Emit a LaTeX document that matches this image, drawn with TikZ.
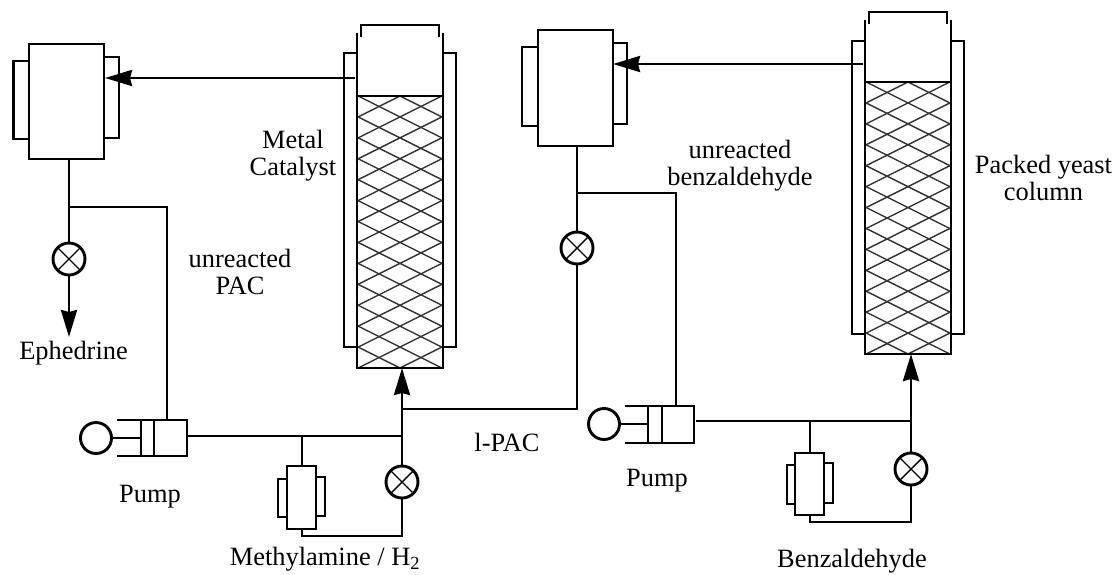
\documentclass[tikz,border=0pt]{standalone}
\usepackage{fontspec}
\setmainfont{Liberation Serif}
\usetikzlibrary{arrows.meta}
\tikzset{
  pipe/.style={line width=2.8pt,line cap=butt,line join=miter},
  flow/.style={pipe,-{Stealth[length=27pt,width=16pt,inset=2pt]}},
  wall/.style={line width=2.9pt,line join=miter,line cap=butt},
  mesh/.style={line width=1.4pt,black!80},
  vessel/.style={draw,line width=2.9pt,inner sep=0pt,outer sep=0pt,fill=white},
  packing/.style={draw,line width=2.9pt,inner sep=0pt,outer sep=0pt},
  valve/.style={circle,draw,line width=2.9pt,inner sep=0pt,outer sep=0pt,minimum size=32pt,fill=white,
    path picture={\draw[line width=1.4pt] (path picture bounding box.north west)--(path picture bounding box.south east)
      (path picture bounding box.north east)--(path picture bounding box.south west);}},
  motor/.style={circle,draw,line width=2.9pt,inner sep=0pt,outer sep=0pt,minimum size=31pt},
  lbl/.style={inner sep=0pt,align=center,font=\fontsize{26.4}{27.3}\selectfont}
}
% box from corners
\newcommand{\bx}[6]{%
  \pgfmathsetmacro{\cxx}{(#3+#5)/2}\pgfmathsetmacro{\cyy}{(#4+#6)/2}%
  \pgfmathsetmacro{\wdd}{#5-#3}\pgfmathsetmacro{\htt}{#6-#4}%
  \node[#2,minimum width=\wdd pt,minimum height=\htt pt] (#1) at (\cxx,\cyy) {};}
\newcommand{\sep}[5]{\bx{#1}{vessel}{#2}{#3}{#4}{#5}}
% column: name, xL, xR, packing top, bottom, wall top, lid y, jacket top, jacket bottom
\newcommand{\colm}[9]{%
  \pgfmathsetmacro{\xm}{(#2+#3)/2}\pgfmathsetmacro{\qw}{(#3-#2)/4}\pgfmathsetmacro{\pp}{(#5-#4)/13}%
  \begin{scope}
    \clip (#2,#4) rectangle (#3,#5);
    \foreach \k in {-2,...,15}{
      \pgfmathsetmacro{\ya}{#4+\k*\pp-\qw}\pgfmathsetmacro{\yb}{#4+\k*\pp+\qw}
      \draw[mesh] (#2,\ya)--(#3,\yb) (#2,\yb)--(#3,\ya);
    }
  \end{scope}
  \bx{#1}{packing}{#2}{#4}{#3}{#5}
  \draw[wall] (#2,#4)--(#2,#6) (#3,#4)--(#3,#6);
  \draw[wall] (#2+4,#7+12)--(#2+4,#7)--(#3-4,#7)--(#3-4,#7+12);
  \draw[wall] (#2,#8)--(#2-13,#8)--(#2-13,#9)--(#2,#9);
  \draw[wall] (#3,#8)--(#3+13,#8)--(#3+13,#9)--(#3,#9);
}
\begin{document}
\begin{tikzpicture}[x=1pt,y=-1pt]
\useasboundingbox (0,0) rectangle (1118,574);
% columns
\colm{colA}{357}{443}{96}{368}{33}{25}{53}{347}
\colm{colB}{865}{951}{82}{354}{20}{12}{41}{334}
% separators with jackets
\draw[wall] (29,61)-|(13.5,139)--(29,139) (104,57)-|(119,138)--(104,138);
\sep{sepA}{29}{44}{104}{159}
\draw[wall] (538,47)-|(522,126)--(538,126) (613,43)-|(627,124)--(613,124);
\sep{sepB}{538}{30}{613}{146}
\draw[wall] (287,479)-|(278,517)--(287,517) (316,477)-|(325,516)--(316,516);
\sep{sepC}{287}{466}{316}{529}
\draw[wall] (795,465)-|(787,504)--(795,504) (824,463)-|(833,503)--(824,503);
\sep{sepD}{795}{453}{824}{515}
% valves
\node[valve] (v1) at (69,259) {};
\node[valve] (v2) at (577,248) {};
\node[valve] (v3) at (402,482) {};
\node[valve] (v4) at (911,469) {};
% pumps
\node[motor] (mA) at (96,438) {};
\bx{pA}{vessel}{141}{420}{187}{456}
\draw[wall] (154,420)--(154,456) (117,420)--(pA.north west) (117,456)--(pA.south west);
\draw[pipe] (mA.east)--(pA.west |- mA.east);
\node[motor] (mB) at (604,424) {};
\bx{pB}{vessel}{648}{406}{694}{443}
\draw[wall] (662,406)--(662,443) (625,406)--(pB.north west) (625,443)--(pB.south west);
\draw[pipe] (mB.east)--(pB.west |- mB.east);
% junction coordinates
\coordinate (jA1) at (69,207);
\coordinate (jA2) at (167,207);
\coordinate (dA) at (167,420);
\coordinate (outA) at (355,78);
\coordinate (inA) at (105,78);
\coordinate (eph) at (69,337);
\coordinate (l1) at (188,436);
\coordinate (j3) at (402,436);
\coordinate (j5) at (402,409);
\coordinate (jC) at (302,436);
\coordinate (cC) at (302,536);
\coordinate (c3) at (402,536);
\coordinate (tA) at (402,368);
\coordinate (k2) at (577,409);
\coordinate (jB1) at (577,193);
\coordinate (jB2) at (676,193);
\coordinate (dB) at (676,406);
\coordinate (outB) at (863,64);
\coordinate (inB) at (613,64);
\coordinate (l2) at (696,421);
\coordinate (j4) at (911,421);
\coordinate (jD) at (810,421);
\coordinate (cD) at (810,522);
\coordinate (c4) at (911,522);
\coordinate (tB) at (911,354);
% connectors
\draw[flow] (outA)--(inA);
\draw[pipe] (sepA.south -| v1)--(v1.north);
\draw[flow] (v1.south)--(eph);
\draw[pipe] (jA1)--(jA2)--(dA);
\draw[pipe] (l1)--(j3);
\draw[pipe] (jC)--(jC |- sepC.north);
\draw[pipe] (jC |- sepC.south)--(cC)--(c3)--(v3.south);
\draw[pipe] (v3.north)--(j3);
\draw[flow] (j3)--(tA);
\draw[pipe] (j5)--(k2)--(v2.south);
\draw[pipe] (v2.north)--(sepB.south -| v2);
\draw[pipe] (jB1)--(jB2)--(dB);
\draw[flow] (outB)--(inB);
\draw[pipe] (l2)--(j4);
\draw[pipe] (jD)--(jD |- sepD.north);
\draw[pipe] (jD |- sepD.south)--(cD)--(c4)--(v4.south);
\draw[pipe] (v4.north)--(j4);
\draw[flow] (j4)--(tB);
% labels
\node[lbl] (t1) at (73.5,353) {Ephedrine};
\node[lbl] (t2) at (293,156) {Metal\\Catalyst};
\node[lbl] (t3) at (240,272) {unreacted\\PAC};
\node[lbl] (t4) at (740,166) {unreacted\\benzaldehyde};
\node[lbl] (t5) at (1043.5,178) {Packed yeast\\column};
\node[lbl] (t6) at (507,442) {l-PAC};
\node[lbl] (t7) at (150,497) {Pump};
\node[lbl] (t8) at (657,481) {Pump};
\node[lbl] (t9) at (325,559) {Methylamine / H\textsubscript{2}};
\node[lbl] (t10) at (852,561) {Benzaldehyde};
\end{tikzpicture}
\end{document}
